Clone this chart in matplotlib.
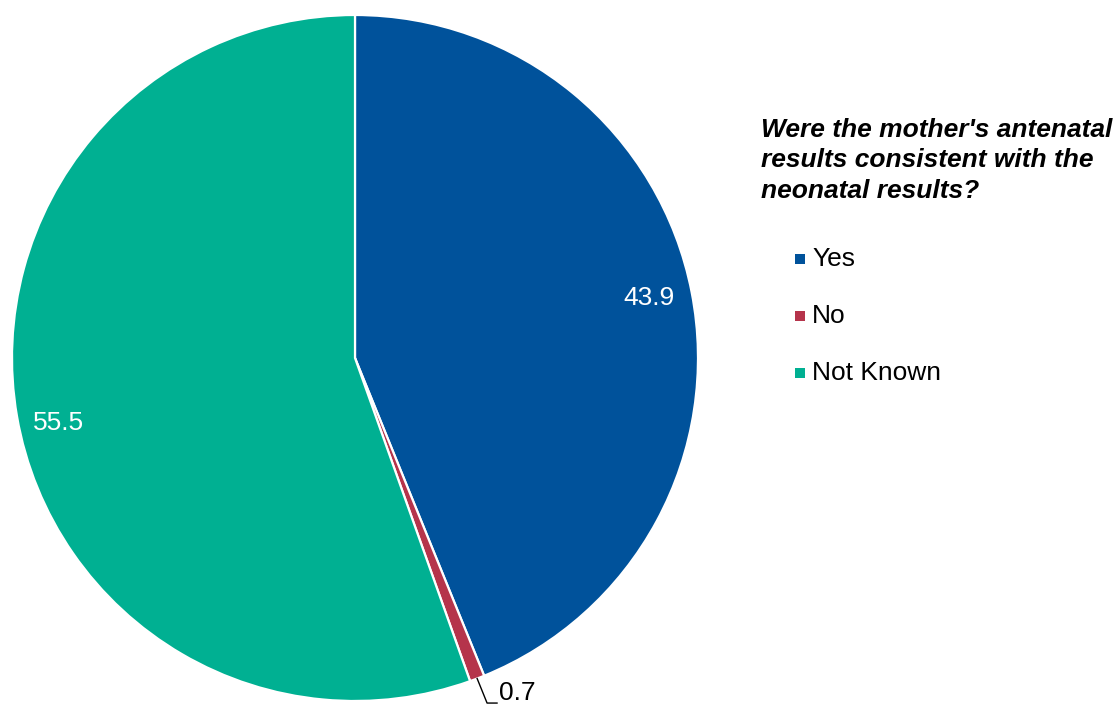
import numpy as np
import matplotlib
matplotlib.use("Agg")
import matplotlib.pyplot as plt
from matplotlib.patches import Rectangle

plt.rcParams['font.family'] = ['Liberation Sans', 'DejaVu Sans']

categories = ["Yes", "No", "Not Known"]
values = [43.9, 0.7, 55.5]
colors = ["#00529B", "#B5344B", "#00B092"]
title = "Were the mother's antenatal\nresults consistent with the\nneonatal results?"

W, H = 1120, 706
fig = plt.figure(figsize=(W / 100, H / 100), dpi=100)

cx, cy, R = 355, 358, 343
ax = fig.add_axes([(cx - R) / W, (H - cy - R) / H, 2 * R / W, 2 * R / H])
wedges, _ = ax.pie(values, colors=colors, startangle=90, counterclock=False,
                   radius=1.0, wedgeprops=dict(edgecolor="white", linewidth=1.6))
ax.set_xlim(-1, 1)
ax.set_ylim(-1, 1)
ax.set_aspect("equal")
ax.axis("off")

# inside-label placement (radius fraction, angle nudge in degrees)
label_layout = {"Yes": (0.875, 0.5), "Not Known": (0.885, 2.5)}

total = sum(values)
cum = np.cumsum([0] + values)
for i, (name, v) in enumerate(zip(categories, values)):
    mid_deg = 90 - 360 * (cum[i] + v / 2) / total
    if name in label_layout:
        r, nudge = label_layout[name]
        a = np.deg2rad(mid_deg + nudge)
        ax.text(r * np.cos(a), r * np.sin(a), f"{v:.1f}", color="white",
                fontsize=19, ha="center", va="center")
    else:
        a = np.deg2rad(mid_deg)
        x0, y0 = np.cos(a), np.sin(a)
        x1, y1 = x0 + 0.029, -1.006
        x2 = x1 + 0.029
        ax.plot([x0, x1, x2], [y0, y1, y1], color="black", lw=1.0, clip_on=False)
        ax.text(x2 + 0.006, y1 + 0.03, f"{v:.1f}", color="black", fontsize=19,
                ha="left", va="center", clip_on=False)

fig.text(761 / W, 1 - 118 / H, title, fontsize=19, fontweight="bold",
         fontstyle="italic", ha="left", va="top", linespacing=1.33)

row_y = [259, 316, 373]
for name, c, y in zip(categories, colors, row_y):
    fig.patches.append(Rectangle((795 / W, 1 - (y + 5) / H), 10 / W, 10 / H,
                                 transform=fig.transFigure, facecolor=c,
                                 edgecolor="none"))
    fig.text(812 / W, 1 - y / H, name, fontsize=19, ha="left", va="center")

fig.savefig("out.png", dpi=100)
